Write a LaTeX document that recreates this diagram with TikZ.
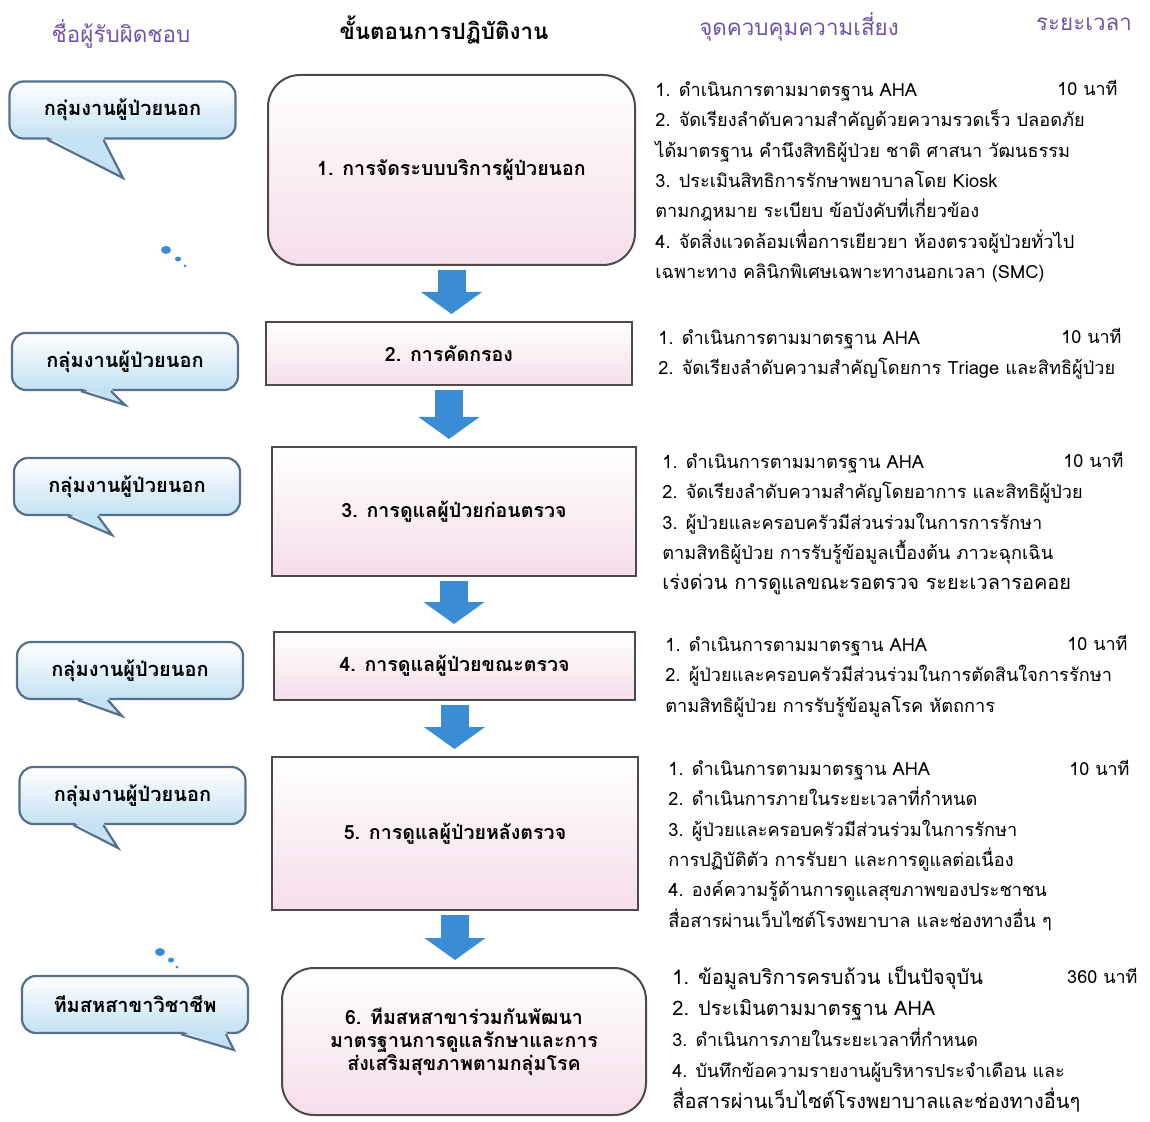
\documentclass[tikz,border=0pt]{standalone}
\usepackage{fontspec}
\setmainfont[Script=Thai]{Loma}
\usetikzlibrary{positioning,arrows.meta,calc}

\definecolor{headpurple}{RGB}{112,84,168}
\definecolor{ownerline}{RGB}{84,112,140}
\definecolor{ownerfill}{RGB}{196,226,243}
\definecolor{boxline}{RGB}{80,72,76}
\definecolor{boxpink}{RGB}{244,222,234}
\definecolor{flowblue}{RGB}{58,140,212}

\tikzset{
  owner/.style={draw=ownerline, line width=1.1pt, rounded corners=7pt,
    top color=white, bottom color=ownerfill, minimum width=113pt,
    minimum height=28.5pt, inner sep=0pt,
    font=\fontsize{10}{12}\selectfont\bfseries},
  ownertail/.style={draw=ownerline, line width=1.1pt},
  stepbox/.style={draw=boxline, line width=1pt, top color=white,
    bottom color=boxpink, inner sep=0pt, align=center,
    font=\fontsize{9.8}{11.5}\selectfont\bfseries},
  roundstep/.style={stepbox, rounded corners=16pt},
  risk/.style={anchor=north west, inner sep=0pt, align=left,
    font=\fontsize{9.1}{15.2}\selectfont},
  timing/.style={anchor=east, inner sep=0pt, font=\fontsize{9}{10}\selectfont},
  header/.style={font=\fontsize{11.2}{13}\selectfont, text=headpurple},
  flowarrow/.style={draw=flowblue, line width=14pt, shorten <=2pt,
    shorten >=3.5pt, -{Triangle[length=11pt, width=30pt]}},
}

\begin{document}
\begin{tikzpicture}[x=0.5pt, y=-0.5pt]

  \useasboundingbox (0,0) rectangle (1150,1122);

  % column heads
  \node[header] (h1) at (121,34) {ชื่อผู้รับผิดชอบ};
  \node[header, text=black, font=\fontsize{11.2}{13}\selectfont\bfseries] (h2) at (444,30) {ขั้นตอนการปฏิบัติงาน};
  \node[header] (h3) at (799,27) {จุดควบคุมความเสี่ยง};
  \node[header] (h4) at (1084,24) {ระยะเวลา};

  % steps
  \node[roundstep, minimum width=183.5pt, minimum height=95pt] (b1) at (451.5,170) {1. การจัดระบบบริการผู้ป่วยนอก};
  \node[stepbox, minimum width=183pt, minimum height=31.5pt] (b2) at (449,353.5) {2. การคัดกรอง};
  \node[stepbox, minimum width=182pt, minimum height=64.5pt] (b3) at (454,511.5) {3. การดูแลผู้ป่วยก่อนตรวจ};
  \node[stepbox, minimum width=180.5pt, minimum height=34pt] (b4) at (454.5,666) {4. การดูแลผู้ป่วยขณะตรวจ};
  \node[stepbox, minimum width=183pt, minimum height=76.5pt] (b5) at (455,833.5) {5. การดูแลผู้ป่วยหลังตรวจ};
  \node[roundstep, minimum width=182pt, minimum height=73.5pt] (b6) at (464,1041.5) {6. ทีมสหสาขาร่วมกันพัฒนา\\มาตรฐานการดูแลรักษาและการ\\ส่งเสริมสุขภาพตามกลุ่มโรค};

  \draw[flowarrow] (b1.south) -- (b1.south |- b2.north);
  \draw[flowarrow] (b2.south) -- (b2.south |- b3.north);
  \draw[flowarrow] (b3.south) -- (b3.south |- b4.north);
  \draw[flowarrow] (b4.south) -- (b4.south |- b5.north);
  \draw[flowarrow] (b5.south) -- (b5.south |- b6.north);

  % owners
  \node[owner] (o1) at (122.5,110) {กลุ่มงานผู้ป่วยนอก};
  \node[owner] (o2) at (125,361.5) {กลุ่มงานผู้ป่วยนอก};
  \node[owner] (o3) at (127,486.5) {กลุ่มงานผู้ป่วยนอก};
  \node[owner] (o4) at (130,670.5) {กลุ่มงานผู้ป่วยนอก};
  \node[owner] (o5) at (132.5,795.5) {กลุ่มงานผู้ป่วยนอก};
  \node[owner] (o6) at (135,1004.5) {ทีมสหสาขาวิชาชีพ};

  \coordinate (p1) at (123,178);
  \coordinate (p2) at (125,405);
  \coordinate (p3) at (112,535);
  \coordinate (p4) at (122,716);
  \coordinate (p5) at (118,848);
  \coordinate (p6) at (234,1050);

  \foreach \o/\p/\a/\b in {o1/p1/39/95, o2/p2/70/100, o3/p3/55/85,
                           o4/p4/62/92, o5/p5/55/85, o6/p6/160/205} {
    \fill[ownerfill] ($(\o.south west)+(\a,-3)$) -- (\p) -- ($(\o.south west)+(\b,-3)$) -- cycle;
    \draw[ownertail] ($(\o.south west)+(\a,0)$) -- (\p) -- ($(\o.south west)+(\b,0)$);
  }

  % specks
  \fill[flowblue] (166,250) ellipse (5 and 4);
  \fill[flowblue] (178,259) ellipse (3 and 2.5);
  \fill[flowblue] (185,266) circle (1.5);
  \fill[flowblue] (160,952) ellipse (5 and 4);
  \fill[flowblue] (171,960) ellipse (3 and 2.5);
  \fill[flowblue] (177,967) circle (1.5);

  % risk points
  \node[risk] (r1) at (655,81) {1. ดำเนินการตามมาตรฐาน AHA\\
    2. จัดเรียงลำดับความสำคัญด้วยความรวดเร็ว ปลอดภัย\\
    ได้มาตรฐาน คำนึงสิทธิผู้ป่วย ชาติ ศาสนา วัฒนธรรม\\
    3. ประเมินสิทธิการรักษาพยาบาลโดย Kiosk\\
    ตามกฎหมาย ระเบียบ ข้อบังคับที่เกี่ยวข้อง\\
    4. จัดสิ่งแวดล้อมเพื่อการเยียวยา ห้องตรวจผู้ป่วยทั่วไป\\
    เฉพาะทาง คลินิกพิเศษเฉพาะทางนอกเวลา (SMC)};
  \node[risk] (r2) at (658,329) {1. ดำเนินการตามมาตรฐาน AHA\\
    2. จัดเรียงลำดับความสำคัญโดยการ Triage และสิทธิผู้ป่วย};
  \node[risk] (r3) at (662,453) {1. ดำเนินการตามมาตรฐาน AHA\\
    2. จัดเรียงลำดับความสำคัญโดยอาการ และสิทธิผู้ป่วย\\
    3. ผู้ป่วยและครอบครัวมีส่วนร่วมในการการรักษา\\
    ตามสิทธิผู้ป่วย การรับรู้ข้อมูลเบื้องต้น ภาวะฉุกเฉิน\\
    {\fontsize{10}{15.2}\selectfont เร่งด่วน การดูแลขณะรอตรวจ ระยะเวลารอคอย}};
  \node[risk] (r4) at (665,636) {1. ดำเนินการตามมาตรฐาน AHA\\
    2. ผู้ป่วยและครอบครัวมีส่วนร่วมในการตัดสินใจการรักษา\\
    ตามสิทธิผู้ป่วย การรับรู้ข้อมูลโรค หัตถการ};
  \node[risk] (r5) at (668,760) {1. ดำเนินการตามมาตรฐาน AHA\\
    2. ดำเนินการภายในระยะเวลาที่กำหนด\\
    3. ผู้ป่วยและครอบครัวมีส่วนร่วมในการรักษา\\
    การปฏิบัติตัว การรับยา และการดูแลต่อเนื่อง\\
    4. องค์ความรู้ด้านการดูแลสุขภาพของประชาชน\\
    สื่อสารผ่านเว็บไซต์โรงพยาบาล และช่องทางอื่น ๆ};
  \node[risk, font=\fontsize{10}{15.5}\selectfont] (r6) at (672,966) {1. ข้อมูลบริการครบถ้วน เป็นปัจจุบัน\\
    2. ประเมินตามมาตรฐาน AHA\\
    {\fontsize{9}{15.5}\selectfont 3. ดำเนินการภายในระยะเวลาที่กำหนด}\\
    {\fontsize{9}{15.5}\selectfont 4. บันทึกข้อความรายงานผู้บริหารประจำเดือน และ}\\
    สื่อสารผ่านเว็บไซต์โรงพยาบาลและช่องทางอื่นๆ};

  % times
  \node[timing] (t1) at (1118,88) {10 นาที};
  \node[timing] (t2) at (1122,336) {10 นาที};
  \node[timing] (t3) at (1124,460) {10 นาที};
  \node[timing] (t4) at (1128,643) {10 นาที};
  \node[timing] (t5) at (1130,768) {10 นาที};
  \node[timing] (t6) at (1138,976) {360 นาที};

\end{tikzpicture}
\end{document}
